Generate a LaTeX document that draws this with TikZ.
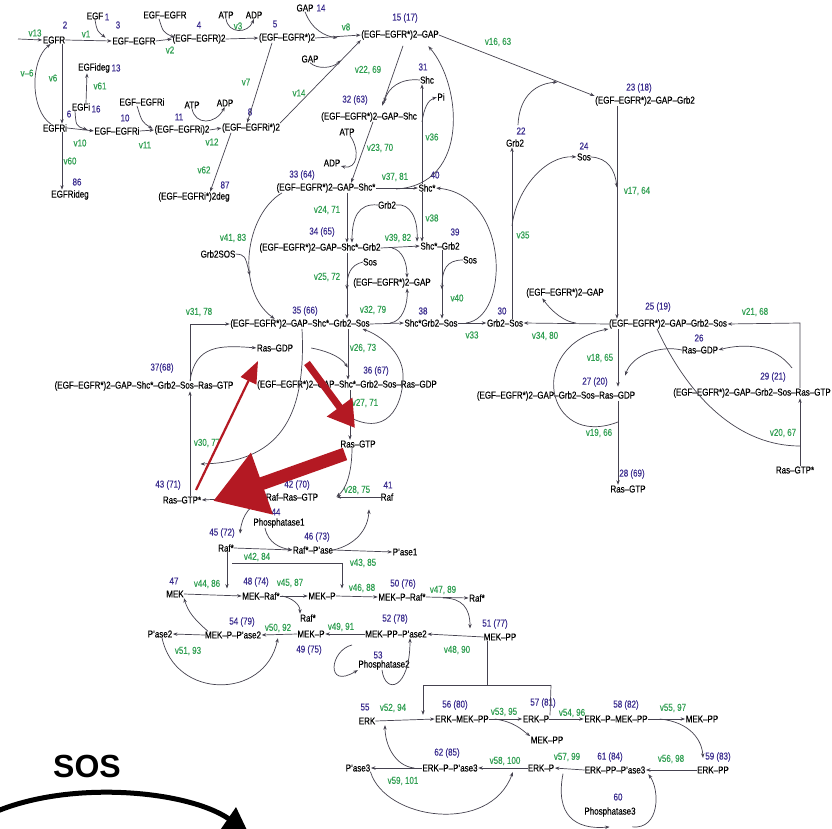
\documentclass[tikz,border=0pt]{standalone}
\usepackage{fontspec}
\setmainfont{Liberation Sans}[FakeStretch=0.8,FakeBold=0.3]
\newfontfamily\plainsans{Liberation Sans}
\usetikzlibrary{arrows.meta,calc}
\definecolor{numblue}{HTML}{3A2C8E}
\definecolor{rategreen}{HTML}{2E9E50}
\definecolor{wire}{HTML}{45424F}
\definecolor{hlred}{HTML}{B41923}
\begin{document}
\begin{tikzpicture}[x=1pt,y=-1pt,
  lab/.style={inner sep=0pt, font=\fontsize{10}{11}\selectfont},
  num/.style={lab, text=numblue},
  rate/.style={lab, text=rategreen},
  rx/.style={draw=wire, line width=0.7pt},
  rxa/.style={rx, shorten >=0.5pt, -{Stealth[length=4.5pt,width=3.4pt]}},
]
\useasboundingbox[fill=white] (0,0) rectangle (832,829);

% ---------------- species ----------------
% EGFR binding and dimerisation
\node[lab] (egfr) at (54,40) {EGFR}; \node[num] (k2) at (65,25) {2};
\node[lab] (egfA) at (95,16) {EGF}; \node[num] (k1) at (107,17) {1};
\node[lab] (ee) at (134,41) {EGF--EGFR}; \node[num] (k3) at (118,25) {3};
\node[lab] (eeB) at (165,15) {EGF--EGFR};
\node[lab] (ee2) at (199,39) {(EGF--EGFR)2}; \node[num] (k4) at (199,25) {4};
\node[lab] (atpA) at (226,15) {ATP}; \node[lab] (adpA) at (254,15) {ADP};
\node[lab] (ees2) at (287,38) {(EGF--EGFR*)2}; \node[num] (k5) at (275,24) {5};
\node[lab] (gapA) at (305,8) {GAP}; \node[num] (k14) at (321,8) {14};
\node[lab] (gapB) at (310,59) {GAP};
\node[lab] (c15) at (400,35) {(EGF--EGFR*)2--GAP}; \node[num] (k15) at (405,18) {15 (17)};

% internalised receptor
\node[lab] (egfri) at (55,128) {EGFRi}; \node[num] (k6) at (69,114) {6};
\node[lab] (egfi) at (81,107) {EGFi}; \node[num] (k16) at (96,109) {16};
\node[lab] (egfideg) at (94,68) {EGFideg}; \node[num] (k13) at (116,68) {13};
\node[lab] (eei) at (117,131) {EGF--EGFRi}; \node[num] (k10) at (125,118) {10};
\node[lab] (eeiB) at (142,102) {EGF--EGFRi};
\node[lab] (eei2) at (182,130) {(EGF--EGFRi)2}; \node[num] (k11) at (179,117) {11};
\node[lab] (atpB) at (192,105) {ATP}; \node[lab] (adpB) at (225,103) {ADP};
\node[lab] (eeis2) at (251,128) {(EGF--EGFRi*)2}; \node[num] (k8) at (250,112) {8};
\node[lab] (egfrideg) at (70,195) {EGFRideg}; \node[num] (k86) at (77,182) {86};
\node[lab] (eeideg) at (194,197) {(EGF--EGFRi*)2deg}; \node[num] (k87) at (225,185) {87};

% Shc / Grb2 / Sos
\node[lab] (shc) at (427,80) {Shc}; \node[num] (k31) at (423,67) {31};
\node[lab] (pi) at (441,97) {Pi};
\node[lab] (c32) at (369,117) {(EGF--EGFR*)2--GAP--Shc}; \node[num] (k32) at (355,100) {32 (63)};
\node[lab] (atpC) at (347,132) {ATP}; \node[lab] (adpC) at (332,163) {ADP};
\node[lab] (c33) at (326,188) {(EGF--EGFR*)2--GAP--Shc*}; \node[num] (k33) at (302,175) {33 (64)};
\node[lab] (shcs) at (427,188) {Shc*}; \node[num] (k40) at (435,175) {40};
\node[lab] (grb2A) at (515,143) {Grb2}; \node[num] (k22) at (521,131) {22};
\node[lab] (c23) at (645,101) {(EGF--EGFR*)2--GAP--Grb2}; \node[num] (k23) at (639,88) {23 (18)};
\node[lab] (sosA) at (584,157) {Sos}; \node[num] (k24) at (584,146) {24};
\node[lab] (grb2sos) at (218,254) {Grb2SOS};
\node[lab] (grb2B) at (387,205) {Grb2};
\node[lab] (c34) at (320,248) {(EGF--EGFR*)2--GAP--Shc*--Grb2}; \node[num] (k34) at (322,232) {34 (65)};
\node[lab] (shcgrb2) at (440,246) {Shc*--Grb2}; \node[num] (k39) at (455,232) {39};
\node[lab] (sosB) at (370,262) {Sos};
\node[lab] (gapC) at (392,283) {(EGF--EGFR*)2--GAP};
\node[lab] (sosC) at (470,260) {Sos};
\node[lab] (c35) at (300,324) {(EGF--EGFR*)2--GAP--Shc*--Grb2--Sos}; \node[num] (k35) at (305,311) {35 (66)};
\node[lab] (c38) at (431,323) {Shc*Grb2--Sos}; \node[num] (k38) at (423,311) {38};
\node[lab] (grb2sosB) at (505,323) {Grb2--Sos}; \node[num] (k30) at (502,311) {30};
\node[lab] (gapD) at (565,293) {(EGF--EGFR*)2--GAP};
\node[lab] (c25) at (668,324) {(EGF--EGFR*)2--GAP--Grb2--Sos}; \node[num] (k25) at (658,307) {25 (19)};
\node[lab] (rasgdpA) at (700,350) {Ras--GDP}; \node[num] (k26) at (699,338) {26};
\node[lab] (c27) at (556,396) {(EGF--EGFR*)2--GAP--Grb2--Sos--Ras--GDP}; \node[num] (k27) at (595,382) {27 (20)};
\node[lab] (c29) at (752,393) {(EGF--EGFR*)2--GAP--Grb2--Sos--Ras--GTP}; \node[num] (k29) at (773,377) {29 (21)};
\node[lab] (rasgtpA) at (628,489) {Ras--GTP}; \node[num] (k28) at (632,474) {28 (69)};
\node[lab] (rasgtpsB) at (795,470) {Ras--GTP*};

% Ras activation on the Shc branch
\node[lab] (rasgdpB) at (275,348) {Ras--GDP};
\node[lab] (c36) at (347,385) {(EGF--EGFR*)2--GAP--Shc*--Grb2--Sos--Ras--GDP}; \node[num] (k36) at (376,371) {36 (67)};
\node[lab] (c37) at (144,386) {(EGF--EGFR*)2--GAP--Shc*--Grb2--Sos--Ras--GTP}; \node[num] (k37) at (162,368) {37(68)};
\node[lab] (rasgtpB) at (358,444) {Ras--GTP};
\node[lab] (rasgtpsA) at (182,500) {Ras--GTP*}; \node[num] (k43) at (168,485) {43 (71)};
\node[lab] (c42) at (292,497) {Raf--Ras--GTP}; \node[num] (k42) at (297,485) {42 (70)};
\node[lab] (raf) at (387,497) {Raf}; \node[num] (k41) at (388,485) {41};
\node[lab] (ph1) at (279,523) {Phosphatase1}; \node[num] (k44) at (276,512) {44};
\node[lab] (rafs) at (226,548) {Raf*}; \node[num] (k45) at (222,533) {45 (72)};
\node[lab] (rafp) at (313,550) {Raf*--P'ase}; \node[num] (k46) at (317,537) {46 (73)};
\node[lab] (pase1) at (405,552) {P'ase1};

% MEK cascade
\node[lab] (mek) at (175,594) {MEK}; \node[num] (k47) at (174,581) {47};
\node[lab] (mekraf) at (261,596) {MEK--Raf*}; \node[num] (k48) at (256,582) {48 (74)};
\node[lab] (mekpA) at (322,596) {MEK--P};
\node[lab] (mekpraf) at (402,597) {MEK--P--Raf*}; \node[num] (k50) at (403,584) {50 (76)};
\node[lab] (rafsB) at (477,598) {Raf*};
\node[lab] (rafsC) at (308,618) {Raf*};
\node[lab] (mekppase) at (396,634) {MEK--PP--P'ase2}; \node[num] (k52) at (395,619) {52 (78)};
\node[lab] (mekpB) at (311,634) {MEK--P}; \node[num] (k49) at (309,650) {49 (75)};
\node[lab] (mekpase) at (233,635) {MEK--P--P'ase2}; \node[num] (k54) at (242,622) {54 (79)};
\node[lab] (pase2) at (160,634) {P'ase2};
\node[lab] (mekpp) at (500,637) {MEK--PP}; \node[num] (k51) at (495,624) {51 (77)};
\node[lab] (ph2) at (384,665) {Phosphatase2}; \node[num] (k53) at (378,655) {53};

% ERK cascade
\node[lab] (erk) at (367,721) {ERK}; \node[num] (k55) at (365,707) {55};
\node[lab] (n56) at (462,719) {ERK--MEK--PP}; \node[num] (k56) at (455,705) {56 (80)};
\node[lab] (n57) at (536,719) {ERK--P}; \node[num] (k57) at (543,703) {57 (81)};
\node[lab] (mekppB) at (547,740) {MEK--PP};
\node[lab] (n58) at (616,719) {ERK--P--MEK--PP}; \node[num] (k58) at (626,705) {58 (82)};
\node[lab] (mekppC) at (702,719) {MEK--PP};
\node[lab] (n62) at (450,768) {ERK--P--P'ase3}; \node[num] (k62) at (447,753) {62 (85)};
\node[lab] (pase3) at (358,768) {P'ase3};
\node[lab] (erkpB) at (541,768) {ERK--P};
\node[lab] (n61) at (615,770) {ERK--PP--P'ase3}; \node[num] (k61) at (610,757) {61 (84)};
\node[lab] (n59) at (713,770) {ERK--PP}; \node[num] (k59) at (718,757) {59 (83)};
\node[lab] (ph3) at (610,812) {Phosphatase3}; \node[num] (k60) at (618,797) {60};

% ---------------- rate labels ----------------
\node[rate] (r13) at (35,33) {v13};
\node[rate] (r1) at (86,34) {v1};
\node[rate] (r2) at (170,50) {v2};
\node[rate] (r3) at (238,26) {v3};
\node[rate] (rm6) at (27,73) {v--6};
\node[rate] (r6) at (53,78) {v6};
\node[rate] (r61) at (100,86) {v61};
\node[rate] (r10) at (80,143) {v10};
\node[rate] (r60) at (70,161) {v60};
\node[rate] (r11) at (145,145) {v11};
\node[rate] (r12) at (212,142) {v12};
\node[rate] (r7) at (246,82) {v7};
\node[rate] (r62) at (204,170) {v62};
\node[rate] (r8) at (346,27) {v8};
\node[rate] (r14) at (299,93) {v14};
\node[rate] (r22) at (368,70) {v22, 69};
\node[rate] (r16) at (498,42) {v16, 63};
\node[rate] (r36) at (432,137) {v36};
\node[rate] (r23) at (380,148) {v23, 70};
\node[rate] (r37) at (395,177) {v37, 81};
\node[rate] (r35) at (523,235) {v35};
\node[rate] (r17) at (637,191) {v17, 64};
\node[rate] (r41) at (233,238) {v41, 83};
\node[rate] (r24) at (327,210) {v24, 71};
\node[rate] (r38) at (432,218) {v38};
\node[rate] (r39) at (398,238) {v39, 82};
\node[rate] (r25) at (327,277) {v25, 72};
\node[rate] (r40) at (457,298) {v40};
\node[rate] (r31) at (199,312) {v31, 78};
\node[rate] (r32) at (373,310) {v32, 79};
\node[rate] (r33) at (472,335) {v33};
\node[rate] (r34) at (545,336) {v34, 80};
\node[rate] (r21) at (755,312) {v21, 68};
\node[rate] (r18) at (600,358) {v18, 65};
\node[rate] (r26) at (363,348) {v26, 73};
\node[rate] (r27) at (365,403) {v27, 71};
\node[rate] (r19) at (599,433) {v19, 66};
\node[rate] (r20) at (783,433) {v20, 67};
\node[rate] (r30) at (207,443) {v30, 77};
\node[rate] (r28) at (357,490) {v28, 75};
\node[rate] (r42) at (257,557) {v42, 84};
\node[rate] (r43) at (363,563) {v43, 85};
\node[rate] (r44) at (207,584) {v44, 86};
\node[rate] (r45) at (290,583) {v45, 87};
\node[rate] (r46) at (362,588) {v46, 88};
\node[rate] (r47) at (443,590) {v47, 89};
\node[rate] (r49) at (341,627) {v49, 91};
\node[rate] (r50) at (278,628) {v50, 92};
\node[rate] (r48) at (457,650) {v48, 90};
\node[rate] (r51) at (188,651) {v51, 93};
\node[rate] (r52) at (393,708) {v52, 94};
\node[rate] (r53) at (504,712) {v53, 95};
\node[rate] (r54) at (572,713) {v54, 96};
\node[rate] (r55) at (673,708) {v55, 97};
\node[rate] (r58) at (505,761) {v58, 100};
\node[rate] (r57) at (567,757) {v57, 99};
\node[rate] (r56) at (671,759) {v56, 98};
\node[rate] (r59) at (403,781) {v59, 101};

% ---------------- reactions ----------------
% junction points on reaction lines
\coordinate (inflow) at (18,39);
\coordinate (j1) at (106,38);
\coordinate (j2) at (175,38);
\coordinate (j3) at (338,38);
\coordinate (j4) at (341,60);
\coordinate (j5) at (88,130);
\coordinate (j6) at (153,129);
\coordinate (j7) at (558,82);
\coordinate (j8) at (384,103);
\coordinate (j9) at (422,122);
\coordinate (j10) at (396,189);
\coordinate (j11) at (512,226);
\coordinate (j12) at (617,188);
\coordinate (j13) at (250,276);
\coordinate (j15) at (392,248);
\coordinate (j16) at (347,290);
\coordinate (j17) at (442,290);
\coordinate (j18) at (390,323);
\coordinate (j19) at (466,323);
\coordinate (j20) at (576,323);
\coordinate (j21) at (800,323);
\coordinate (j22) at (792,368);
\coordinate (j23) at (625,376);
\coordinate (j25) at (800,446);
\coordinate (j26) at (618,422);
\coordinate (j27) at (348,368);
\coordinate (j28) at (351,418);
\coordinate (j29) at (200,464);
\coordinate (j30) at (336,497);
\coordinate (j31) at (227,589);
\coordinate (j32) at (342,589);
\coordinate (j33) at (232,563);
\coordinate (j34) at (443,598);
\coordinate (j35) at (352,645);
\coordinate (j36) at (487,685);
\coordinate (j37) at (423,685);
\coordinate (j38) at (551,685);
\coordinate (j39) at (470,629);

% receptor activation
\draw[rxa] (inflow) -- (egfr.west);
\draw[rxa] (egfr.east) -- (ee.west);
\draw[rxa] (egfA.south) .. controls (97,31) .. (j1);
\draw[rxa] (ee.east) -- (ee2.west);
\draw[rxa] ([xshift=-6pt]eeB.south) .. controls (163,32) .. (j2);
\draw[rxa] (ee2.east) -- (ees2.west);
\draw[rxa] (atpA.south) .. controls (228,34) and (248,34) .. (adpA.south);
\draw[rxa] (ees2.east) -- (c15.west);
\draw[rxa] (gapA.south) .. controls (312,30) and (325,36) .. (j3);
\draw[rxa] ([xshift=-15pt]ees2.south) -- ([xshift=-4pt]eeis2.north);
\draw[rxa] (eeis2.north east) -- (c15.south west);
\draw[rxa] (gapB.south) .. controls (318,70) and (333,68) .. (j4);

% internalisation and degradation
\draw[rxa] ([xshift=8pt]egfr.south) -- ([xshift=7pt]egfri.north);
\draw[rxa] ([xshift=-4pt]egfri.north) .. controls (30,110) and (30,60) .. ([xshift=-3pt]egfr.south);
\draw[rxa] ([xshift=5pt]egfi.north) -- ([xshift=-7pt]egfideg.south);
\draw[rxa] (egfri.east) -- (eei.west);
\draw[rxa] ([xshift=-6pt]egfi.south) .. controls (76,126) .. (j5);
\draw[rxa] ([xshift=7pt]egfri.south) -- ([xshift=-8pt]egfrideg.north);
\draw[rxa] (eei.east) -- (eei2.west);
\draw[rxa] ([xshift=-5pt]eeiB.south) .. controls (142,122) .. (j6);
\draw[rxa] (eei2.east) -- (eeis2.west);
\draw[rxa] (atpB.south) .. controls (195,125) and (215,125) .. (adpB.south);
\draw[rxa] ([xshift=-20pt]eeis2.south) -- ([xshift=16pt]eeideg.north);

% GAP complex, Grb2 and Shc
\draw[rxa] (c15.east) -- (c23.north west);
\draw[rxa] ([xshift=3pt,yshift=14pt]grb2A.north) .. controls (519,100) and (532,84) .. (j7);
\draw[rxa] ([xshift=3pt,yshift=-6pt]c15.south) -- ([xshift=13pt,yshift=6pt]c32.north);
\draw[rxa] (shc.west) .. controls (400,78) and (388,88) .. (j8);
\draw[rxa] ([xshift=-5pt]shcs.north) -- ([xshift=-5pt]shc.south);
\draw[rxa] (j9) .. controls (424,108) and (428,100) .. (pi.west);
\draw[rxa] (j10) .. controls (470,185) and (462,85) .. ([xshift=28pt,yshift=-6pt]c15.south);
\draw[rxa] ([xshift=3pt]atpC.south) .. controls (360,150) and (358,170) .. ([yshift=-3pt]adpC.east);
\draw[rxa] ([xshift=4pt]c32.south) -- ([xshift=25pt]c33.north);
\draw[rxa] (c33.east) -- (shcs.west);
\draw[rxa] ([xshift=-28pt]c23.south) -- ([xshift=-51pt]c25.north);
\draw[rxa] ([xshift=7pt]grb2sosB.north) -- ([xshift=-3pt]grb2A.south);
\draw[rxa] (j11) .. controls (516,190) and (545,155) .. (sosA.west);
\draw[rxa] (sosA.east) .. controls (608,158) and (615,170) .. (j12);

% Shc-dependent Grb2/Sos recruitment
\draw[rxa] ([xshift=-44pt]c33.south) .. controls (245,215) and (235,290) .. ([xshift=-25pt]c35.north);
\draw[rxa] (grb2sos.east) .. controls (245,255) .. (j13);
\draw[rxa] ([xshift=21pt]c33.south) -- ([xshift=27pt]c34.north);
\draw[rxa] (grb2B.west) .. controls (358,203) and (352,218) .. ([xshift=32pt]c34.north);
\draw[rxa] (grb2B.east) .. controls (410,203) and (418,218) .. ([xshift=-23pt]shcgrb2.north);
\draw[rxa] ([xshift=-5pt]shcs.south) -- ([xshift=-18pt]shcgrb2.north);
\draw[rxa] (c34.east) -- (shcgrb2.west);
\draw[rxa] (j15) .. controls (402,250) and (407,262) .. ([xshift=15pt]gapC.north);
\draw[rxa] ([xshift=27pt]c34.south) -- ([xshift=47pt]c35.north);
\draw[rxa] (sosB.west) .. controls (350,265) and (347,275) .. (j16);
\draw[rxa] ([xshift=2pt]shcgrb2.south) -- ([xshift=11pt]c38.north);
\draw[rxa] (sosC.west) .. controls (446,260) and (442,270) .. (j17);
\draw[rxa] (c35.east) -- (c38.west);
\draw[rxa] (j18) .. controls (402,322) and (408,305) .. ([xshift=15pt]gapC.south);
\draw[rxa] (c38.east) -- (grb2sosB.west);
\draw[rxa] (j19) .. controls (510,318) and (510,195) .. (shcs.east);

% Ras activation on the Grb2 branch
\draw[rxa] (c25.west) -- (grb2sosB.east);
\draw[rxa] (j20) .. controls (565,322) and (552,312) .. ([xshift=-23pt]gapD.south);
\draw[rxa] ([xshift=48pt]c29.north) -- (j21) -- (c25.east);
\draw[rxa] (j22) .. controls (775,345) and (745,343) .. (rasgdpA.east);
\draw[rxa] (rasgdpA.west) .. controls (660,345) and (632,355) .. (j23);
\draw[rxa] ([xshift=-50pt]c25.south) -- ([xshift=62pt,yshift=4pt]c27.north);
\draw[rx] ([xshift=-11pt]c25.south) .. controls (690,400) and (740,446) .. (j25);
\draw[rxa] ([xshift=5pt]rasgtpsB.north) -- ([xshift=48pt]c29.south);
\draw[rxa] ([xshift=62pt]c27.south) -- ([xshift=-10pt]rasgtpA.north);
\draw[rxa] (j26) .. controls (545,450) and (525,345) .. (c25.south west);

% Ras activation on the Shc branch
\draw[rxa] ([xshift=46pt]c37.north) |- (c35.west);
\draw[rxa] ([xshift=46pt]c37.north) .. controls (195,345) and (220,345) .. (rasgdpB.west);
\draw[rxa] ([xshift=8pt]rasgtpsA.north) -- ([xshift=46pt]c37.south);
\draw[rxa] ([xshift=48pt]c35.south) -- ([xshift=1pt]c36.north);
\draw[rxa] ([xshift=18pt]rasgdpB.east) .. controls (322,350) and (340,355) .. (j27);
\draw[rxa] ([xshift=3pt]c36.south) -- ([xshift=-8pt]rasgtpB.north);
\draw[rxa] (j28) .. controls (392,438) and (404,398) .. (403,374) .. controls (402,352) and (380,335) .. ([xshift=62pt]c35.south);
\draw[rxa] ([xshift=2pt]c35.south) .. controls (306,410) and (285,462) .. (j29);

% Raf activation
\draw[rxa] ([xshift=-6pt]rasgtpB.south) .. controls (352,475) and (345,490) .. (j30);
\draw[rxa] (raf.west) -- (j30);
\draw[rxa] (rafp.east) .. controls (355,545) and (368,530) .. ([xshift=-18pt,yshift=-8pt]raf.south);
\draw[rxa] ([xshift=-14pt]ph1.south) .. controls (268,543) and (280,548) .. (rafp.west);
\draw[rxa] (c42.west) .. controls (250,505) and (242,515) .. ([xshift=14pt,yshift=10pt]rafs.north);
\draw[rxa] (c42.west) -- (rasgtpsA.east);
\draw[rxa] (rafs.east) -- (rafp.west);
\draw[rxa] (rafp.east) -- (pase1.west);

% MEK phosphorylation
\draw[rxa] ([xshift=1pt]rafs.south) -- (j31);
\draw[rxa] (j33) -| (j32);
\draw[rxa] (mek.east) -- (mekraf.west);
\draw[rxa] (mekraf.east) -- (mekpA.west);
\draw[rxa] ([xshift=2pt]mekraf.east) .. controls (292,598) and (300,604) .. (rafsC.north west);
\draw[rxa] (mekpA.east) -- (mekpraf.west);
\draw[rxa] (mekpraf.east) -- (rafsB.west);
\draw[rxa] (j34) .. controls (462,598) and (470,608) .. (j39);
\draw[rxa] (mekpp.west) -- (mekppase.east);
\draw[rxa] (mekppase.west) -- (mekpB.east);
\draw[rxa] (mekpB.west) -- (mekpase.east);
\draw[rxa] (mekpase.west) -- (pase2.east);
\draw[rxa] ([xshift=-25pt]mekpase.north) .. controls (195,620) and (188,612) .. (mek.south east);
\draw[rxa] ([xshift=2pt]pase2.south) .. controls (175,700) and (265,700) .. ([xshift=-33pt]mekpB.south);
\draw[rxa] (j35) .. controls (330,650) and (325,690) .. (ph2.south west);
\draw[rxa] ([xshift=-2pt]ph2.south) .. controls (385,695) and (410,690) .. ([xshift=14pt]mekppase.south);

% MEK-PP feeds the ERK module
\draw[rx] ([xshift=-13pt]mekpp.south) -- (j36);
\draw[rx] (j37) -- (j38);
\draw[rxa] (j37) -- ([xshift=-39pt]n56.north);
\draw[rx] (j38) -- ([xshift=14pt]n57.north);

% ERK phosphorylation
\draw[rxa] (erk.east) -- (n56.west);
\draw[rxa] (n56.east) -- (n57.west);
\draw[rxa] ([xshift=6pt]n56.east) .. controls (515,722) and (522,730) .. (mekppB.north west);
\draw[rxa] (n57.east) -- (n58.west);
\draw[rxa] (n58.east) -- (mekppC.west);
\draw[rxa] ([xshift=12pt]n58.east) .. controls (690,722) and (702,740) .. ([xshift=-10pt,yshift=8pt]n59.north);
\draw[rxa] (n59.west) -- (n61.east);
\draw[rxa] (n61.west) -- (erkpB.east);
\draw[rxa] ([xshift=-52pt]n61.south) .. controls (555,815) and (575,830) .. ([yshift=-10pt]ph3.south);
\draw[rxa] ([xshift=22pt,yshift=-10pt]ph3.south) .. controls (660,830) and (660,790) .. ([xshift=33pt]n61.south);
\draw[rxa] (erkpB.west) -- (n62.east);
\draw[rxa] (n62.west) -- (pase3.east);
\draw[rxa] ([xshift=-8pt]n62.west) .. controls (395,766) and (385,745) .. ([xshift=18pt]erk.south);
\draw[rxa] (pase3.south east) .. controls (385,820) and (490,835) .. ([xshift=-28pt]erkpB.south);

% ---------------- highlight arrows ----------------
\draw[hlred, line width=13pt, -{Triangle[length=52pt,width=62pt]}] (345,454) -- (213,501);
\draw[hlred, line width=7pt, -{Triangle[length=26pt,width=30pt]}] (307,363) -- (355,428);
\draw[hlred, line width=2.2pt, -{Triangle[length=22pt,width=17pt]}] (196,490) -- (258,361);

% ---------------- SOS legend arrow ----------------
\node[font=\plainsans\bfseries\fontsize{32}{34}\selectfont, inner sep=0pt] (sos) at (87,766) {SOS};
\begin{scope}
  \clip (0,700) rectangle (832,829);
  \draw[black, line width=5pt, -{Triangle[length=24pt,width=26pt]}] (-5,812) .. controls (70,780) and (187,790) .. (248,832);
\end{scope}
\end{tikzpicture}
\end{document}
